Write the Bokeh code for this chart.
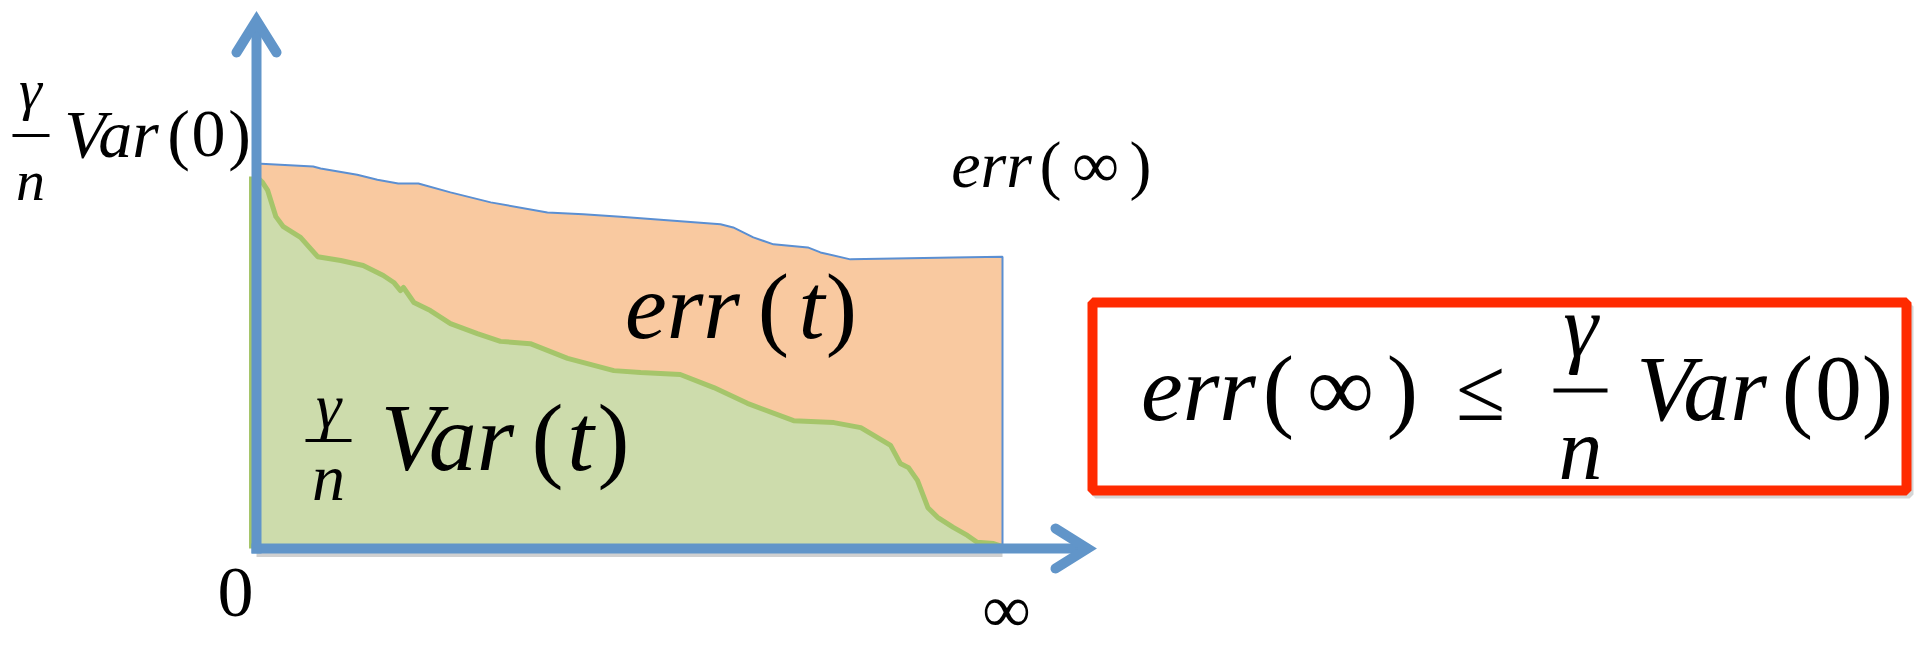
from bokeh.plotting import figure
from bokeh.models import Label, Range1d
from bokeh.embed import file_html
from bokeh.resources import INLINE

# ---- data (t: time axis 0..100, value axis 0..100) ----
err_t = [0, 7.6, 8.6, 13.5, 16.2, 19.0, 21.7, 26.0, 31.4, 39.0, 43.8, 48.8, 62.2,
         63.9, 66.6, 69.3, 73.9, 75.6, 79.6, 93.4, 100]
err_v = [100, 99.2, 98.7, 97.1, 95.8, 94.8, 94.8, 92.5, 89.9, 87.3, 86.8, 86.2, 84.2,
         83.4, 80.8, 79.0, 78.2, 76.9, 75.1, 75.6, 75.8]

var_t = [0, 0.8, 1.5, 2.6, 3.6, 5.9, 8.2, 11.3, 14.3, 17.0, 18.4, 19.3, 19.7, 21.1,
         23.3, 26.0, 29.6, 32.7, 36.7, 41.7, 47.9, 51.5, 56.8, 61.3, 65.8, 72.0, 77.4,
         81.0, 82.3, 85.0, 86.3, 87.4, 88.6, 90.0, 91.3, 93.4, 95.3, 96.6, 98.8, 100]
var_v = [96.6, 95.1, 93.0, 86.2, 83.6, 80.8, 75.8, 74.8, 73.5, 70.9, 69.1, 67.0, 67.8,
         63.9, 61.8, 58.4, 55.8, 53.8, 53.2, 49.4, 46.2, 45.7, 45.2, 41.8, 37.7, 33.2,
         32.7, 31.4, 29.9, 26.8, 22.1, 21.0, 17.7, 10.6, 8.1, 5.5, 3.4, 1.6, 1.3, 0.5]

# ---- layout ----
W, H = 1915, 655
PX_T, PX_V = 7.46, 3.85          # pixels per data unit
OX, OY = 256, 548                # canvas position of the origin
X0 = -OX / PX_T
X1 = X0 + W / PX_T
Y1 = OY / PX_V
Y0 = Y1 - H / PX_V


def tx(px):
    return (px - OX) / PX_T


def vy(py):
    return (OY - py) / PX_V


AXIS = "#6195C9"
ORANGE = "#F9C9A0"
GREEN_FILL = "#CDDCAC"
GREEN_LINE = "#A5C56A"
BLUE_LINE = "#5B8FD2"
RED = "#FF2A00"
SERIF = "Liberation Serif"

p = figure(width=W, height=H, x_range=Range1d(X0, X1), y_range=Range1d(Y0, Y1),
           output_backend="svg", toolbar_location=None, min_border=0,
           x_axis_type=None, y_axis_type=None)
p.grid.visible = False
p.outline_line_color = None
p.background_fill_color = "white"
p.border_fill_color = "white"

# areas
p.varea(x=err_t, y1=[0] * len(err_t), y2=err_v, fill_color=ORANGE)
p.varea(x=var_t, y1=[0] * len(var_t), y2=var_v, fill_color=GREEN_FILL)
p.line(x=var_t, y=var_v, line_width=5, line_color=GREEN_LINE, line_join="round")
p.line(x=[tx(250)] * 2, y=[0, var_v[0]], line_width=3, line_color=GREEN_LINE)
p.line(x=err_t + [err_t[-1]], y=err_v + [0], line_width=2, line_color=BLUE_LINE)

# axes with arrow heads
x_tip, y_tip = tx(1087), vy(20)
along_x, perp_y = 32 / PX_T, 20 / PX_V
along_y, perp_x = 32 / PX_V, 20 / PX_T
p.line(x=[0, 100], y=[-5 / PX_V] * 2, line_width=7, line_color="#777777", line_alpha=0.35)
p.line(x=[tx(251), x_tip], y=[0, 0], line_width=10, line_color=AXIS)
p.line(x=[x_tip - along_x, x_tip, x_tip - along_x], y=[perp_y, 0, -perp_y],
       line_width=10, line_color=AXIS, line_cap="round", line_join="miter")
p.line(x=[0, 0], y=[vy(553), y_tip], line_width=10, line_color=AXIS)
p.line(x=[-perp_x, 0, perp_x], y=[y_tip - along_y, y_tip, y_tip - along_y],
       line_width=10, line_color=AXIS, line_cap="round", line_join="miter")

# red box
p.quad(left=tx(1095), right=tx(1909), top=vy(306), bottom=vy(494),
       fill_color=None, line_color="#888888", line_alpha=0.35, line_width=8)
p.quad(left=tx(1092), right=tx(1906), top=vy(302), bottom=vy(490),
       fill_color="white", line_color=RED, line_width=10)

BASE_FIX = 0.29  # Bokeh places the alphabetic baseline this many em lower


def lab(px, py, text, size, style="italic", align="center"):
    p.add_layout(Label(x=tx(px), y=vy(py - BASE_FIX * size), text=text,
                       text_font=SERIF, text_font_size=f"{size}px",
                       text_font_style=style, text_align=align,
                       text_baseline="alphabetic", text_color="black"))


def bar(x0, x1, py, w=3):
    p.segment(x0=[tx(x0)], y0=[vy(py)], x1=[tx(x1)], y1=[vy(py)],
              line_width=w, line_color="black")


# top-left: gamma/n Var(0)
lab(30, 106, "γ", 58)
bar(12, 49, 135)
lab(30, 197, "n", 58)
lab(111, 153, "Var", 68)
lab(178, 153, "(", 68, style="normal")
lab(208, 153, "0", 68, style="normal")
lab(239, 153, ")", 68, style="normal")

# err(inf) top right
lab(991, 183, "err", 66)
lab(1050, 183, "(", 66, style="normal")
lab(1095, 183, "∞", 66, style="normal")
lab(1140, 183, ")", 66, style="normal")

# err(t)
lab(682, 333, "err", 94)
lab(773, 333, "(", 94, style="normal")
lab(811, 333, "t", 94)
lab(841, 333, ")", 94, style="normal")

# gamma/n Var(t)
lab(328, 424, "γ", 64)
bar(305, 351, 440)
lab(328, 496, "n", 66)
lab(447, 465, "Var", 96)
lab(547, 465, "(", 96, style="normal")
lab(580, 465, "t", 96)
lab(613, 465, ")", 96, style="normal")

# axis labels
lab(235, 613, "0", 72, style="normal")
lab(1006, 628, "∞", 68, style="normal")

# boxed inequality
lab(1198, 415, "err", 94)
lab(1278, 415, "(", 94, style="normal")
lab(1340, 415, "∞", 94, style="normal")
lab(1402, 415, ")", 94, style="normal")
lab(1480, 415, "≤", 90, style="normal")
lab(1580, 352, "γ", 88)
bar(1553, 1607, 390, 4)
lab(1580, 475, "n", 88)
lab(1701, 415, "Var", 94)
lab(1797, 415, "(", 94, style="normal")
lab(1838, 415, "0", 94, style="normal")
lab(1877, 415, ")", 94, style="normal")

open("out.html", "w").write(file_html(p, INLINE))
